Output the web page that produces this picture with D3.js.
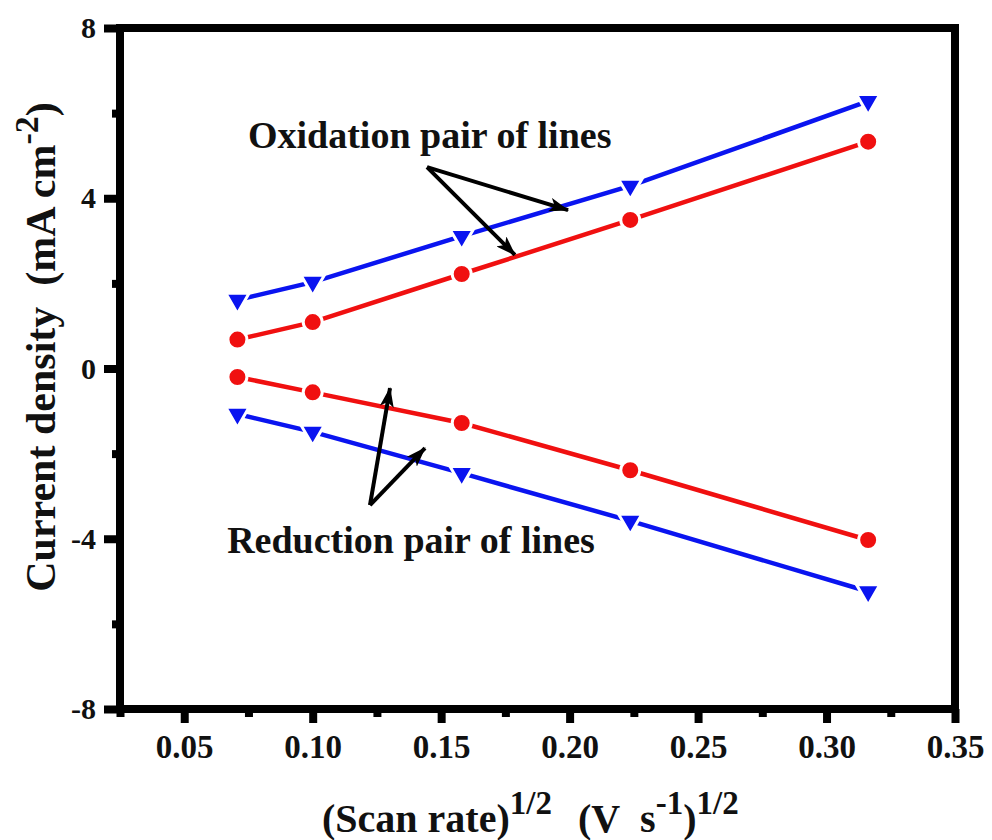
<!DOCTYPE html>
<html>
<head>
<meta charset="utf-8">
<script src="https://cdn.jsdelivr.net/npm/d3@7"></script>
<style>
  html, body { margin: 0; padding: 0; background: #fff; }
  svg { display: block; }
  text { font-family: "Liberation Serif", "Times New Roman", serif; font-weight: bold; fill: #111; }
</style>
</head>
<body>
<svg id="chart" width="992" height="840"></svg>
<script>
// ---- data ----
const scanRateSqrt = [0.0707, 0.1, 0.158, 0.2236, 0.3162];
const oxidationBlue = [1.61, 2.03, 3.11, 4.29, 6.28];
const oxidationRed = [0.68, 1.09, 2.22, 3.49, 5.33];
const reductionRed = [-0.20, -0.56, -1.28, -2.39, -4.03];
const reductionBlue = [-1.07, -1.49, -2.46, -3.58, -5.24];

const xMajorTicks = [0.05, 0.10, 0.15, 0.20, 0.25, 0.30, 0.35];
const xMinorTicks = [0.025, 0.075, 0.125, 0.175, 0.225, 0.275, 0.325];
const yMajorTicks = [-8, -4, 0, 4, 8];
const yMinorTicks = [-6, -2, 2, 6];

const annotations = [
  { text: "Oxidation pair of lines", x: 0.0748, y: 5.18,
    from: [0.1445, 4.73], to: [[0.1994, 3.72], [0.1787, 2.67]] },
  { text: "Reduction pair of lines", x: 0.0667, y: -4.33,
    from: [0.1223, -3.21], to: [[0.1301, -0.46], [0.1437, -1.87]] }
];

// ---- layout ----
const svg = d3.select("#chart");
const L = 120, R = 955, T = 28, B = 709;
const x = d3.scaleLinear().domain([0.025, 0.35]).range([L, R]);
const y = d3.scaleLinear().domain([-8, 8]).range([B, T]);

const defs = svg.append("defs");
defs.append("marker")
  .attr("id", "arrow").attr("viewBox", "0 -7 20 14")
  .attr("refX", 19).attr("refY", 0)
  .attr("markerWidth", 20).attr("markerHeight", 14)
  .attr("markerUnits", "userSpaceOnUse")
  .attr("orient", "auto")
  .append("path").attr("d", "M0,-7 L20,0 L0,7 L5,0 Z").attr("fill", "#000");

// series lines
const series = [
  { values: oxidationBlue, color: "#0a14f0", shape: "tri" },
  { values: oxidationRed, color: "#f01010", shape: "circle" },
  { values: reductionRed, color: "#f01010", shape: "circle" },
  { values: reductionBlue, color: "#0a14f0", shape: "tri" }
];
const line = d3.line().x(d => x(d[0])).y(d => y(d[1]));
series.forEach(s => {
  const pts = scanRateSqrt.map((v, i) => [v, s.values[i]]);
  svg.append("path").datum(pts).attr("d", line)
    .attr("fill", "none").attr("stroke", s.color).attr("stroke-width", 4.5);
});
const tri = d3.symbol().type(d3.symbolTriangle).size(235);
series.forEach(s => {
  const pts = scanRateSqrt.map((v, i) => [v, s.values[i]]);
  const g = svg.append("g");
  if (s.shape === "circle") {
    g.selectAll("circle").data(pts).join("circle")
      .attr("cx", d => x(d[0])).attr("cy", d => y(d[1])).attr("r", 9.5)
      .attr("fill", s.color).attr("stroke", "#fff").attr("stroke-width", 3);
  } else {
    g.selectAll("path").data(pts).join("path")
      .attr("d", tri)
      .attr("transform", d => `translate(${x(d[0])},${y(d[1])}) rotate(180)`)
      .attr("fill", s.color).attr("stroke", "#fff").attr("stroke-width", 3);
  }
});

// annotations
annotations.forEach(a => {
  a.to.forEach(t => {
    svg.append("line")
      .attr("x1", x(a.from[0])).attr("y1", y(a.from[1]))
      .attr("x2", x(t[0])).attr("y2", y(t[1]))
      .attr("stroke", "#000").attr("stroke-width", 4)
      .attr("marker-end", "url(#arrow)");
  });
  svg.append("text").attr("x", x(a.x)).attr("y", y(a.y))
    .attr("font-size", 38).text(a.text);
});

// axes: ticks
const xAxisMajor = d3.axisBottom(x).tickValues(xMajorTicks).tickSize(14).tickSizeOuter(0)
  .tickPadding(12).tickFormat(d3.format(".2f"));
const xAxisMinor = d3.axisBottom(x).tickValues(xMinorTicks).tickSize(8).tickSizeOuter(0).tickFormat("");
const yAxisMajor = d3.axisLeft(y).tickValues(yMajorTicks).tickSize(16).tickSizeOuter(0)
  .tickPadding(8).tickFormat(d => String(d));
const yAxisMinor = d3.axisLeft(y).tickValues(yMinorTicks).tickSize(8).tickSizeOuter(0).tickFormat("");

function styleAxis(g, fs) {
  g.select(".domain").remove();
  g.selectAll(".tick line").attr("stroke", "#000").attr("stroke-width", 8);
  g.selectAll(".tick text").attr("font-size", fs)
    .attr("font-family", '"Liberation Serif", "Times New Roman", serif')
    .attr("font-weight", "bold").attr("fill", "#111");
}
svg.append("g").attr("transform", `translate(0,${B})`).call(xAxisMinor).call(g => styleAxis(g, 0));
svg.append("g").attr("transform", `translate(0,${B})`).call(xAxisMajor).call(g => styleAxis(g, 33));
svg.append("g").attr("transform", `translate(${L},0)`).call(yAxisMinor).call(g => styleAxis(g, 0));
svg.append("g").attr("transform", `translate(${L},0)`).call(yAxisMajor).call(g => styleAxis(g, 30));

// frame
svg.append("rect").attr("x", L).attr("y", T).attr("width", R - L).attr("height", B - T)
  .attr("fill", "none").attr("stroke", "#000").attr("stroke-width", 8);

// axis titles
const xt = svg.append("text").attr("x", 322).attr("y", 832).attr("font-size", 40);
xt.append("tspan").text("(Scan rate)");
xt.append("tspan").attr("font-size", 33).attr("dy", -18).text("1/2");
xt.append("tspan").attr("dx", 26).attr("dy", 18).text("(V\u00A0\u00A0s");
xt.append("tspan").attr("font-size", 33).attr("dy", -18).text("-1");
xt.append("tspan").attr("dy", 18).text(")");
xt.append("tspan").attr("font-size", 33).attr("dy", -18).text("1/2");

const yt = svg.append("text").attr("transform", "translate(55,347) rotate(-90)")
  .attr("text-anchor", "middle").attr("font-size", 42);
yt.append("tspan").text("Current density\u00A0\u00A0(mA cm");
yt.append("tspan").attr("font-size", 34).attr("dy", -17).text("-2");
yt.append("tspan").attr("dy", 17).text(")");
</script>
</body>
</html>
